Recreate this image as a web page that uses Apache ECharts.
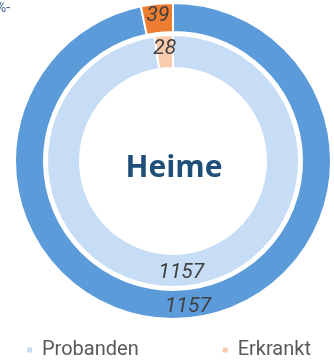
<!DOCTYPE html>
<html>
<head>
<meta charset="utf-8">
<style>
  html, body { margin: 0; padding: 0; background: #fff; }
  #chart { width: 334px; height: 362px; }
</style>
<script src="https://cdn.jsdelivr.net/npm/echarts@6/dist/echarts.min.js"></script>
</head>
<body>
<div id="chart"></div>
<script>
// Two-ring donut: outer ring and inner ring share the same categories
const categories = ['Probanden', 'Erkrankt'];
const outerValues = [1157, 39];
const innerValues = [1157, 28];
const centerTitle = 'Heime';

const outerColors = ['#5b9bd9', '#ed7d31'];
const innerColors = ['#c6ddf5', '#f8cbad'];

const chart = echarts.init(document.getElementById('chart'), null, { renderer: 'canvas' });

const labelStyle = {
  show: true,
  position: 'inside',
  formatter: '{c}',
  fontFamily: 'Roboto',
  fontStyle: 'italic',
  fontSize: 21,
  color: '#404040'
};

function ringData(values, colors) {
  return categories.map((name, i) => ({
    name: name,
    value: values[i],
    itemStyle: { color: colors[i] }
  }));
}

chart.setOption({
  animation: false,
  legend: {
    data: categories.map((name, i) => ({ name: name, itemStyle: { color: innerColors[i] } })),
    left: 20,
    top: 335,
    icon: 'rect',
    itemWidth: 7,
    itemHeight: 7,
    itemGap: 82,
    textStyle: { fontFamily: 'Roboto', fontSize: 20, color: '#595959', padding: [0, 0, 0, 4] }
  },
  graphic: [
    {
      type: 'text',
      x: 174,
      y: 153,
      style: {
        text: centerTitle,
        align: 'center',
        fontFamily: 'Open Sans',
        fontWeight: 'bold',
        fontSize: 30,
        fill: '#1f4e79'
      }
    },
    {
      type: 'text',
      x: -4,
      y: 1,
      style: { text: '%-', fontFamily: 'Roboto', fontSize: 14, fill: '#3f6299' }
    }
  ],
  series: [
    {
      name: 'outer',
      type: 'pie',
      center: [173, 161],
      radius: [129, 158],
      startAngle: 90,
      clockwise: true,
      avoidLabelOverlap: false,
      legendHoverLink: false,
      itemStyle: { borderColor: '#fff', borderWidth: 2 },
      label: labelStyle,
      labelLine: { show: false },
      data: ringData(outerValues, outerColors)
    },
    {
      name: 'inner',
      type: 'pie',
      center: [173, 161],
      radius: [93, 126],
      startAngle: 90,
      clockwise: true,
      avoidLabelOverlap: false,
      itemStyle: { borderColor: '#fff', borderWidth: 2 },
      label: labelStyle,
      labelLine: { show: false },
      data: ringData(innerValues, innerColors)
    }
  ]
});
</script>
</body>
</html>
